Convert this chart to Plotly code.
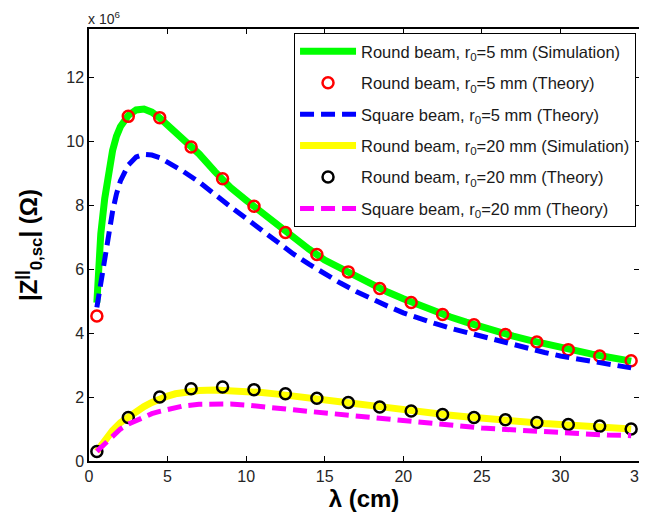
import plotly.graph_objects as go

# ---------------- data (impedance in units of 1e6 Ohm) ----------------
sim_x = [0.5, 0.75, 1.0, 1.25, 1.5, 1.75, 2.0, 2.5, 3.0, 3.5, 4.0, 4.5, 5.0,
         6.0, 7.0, 8.0, 9.0, 10.0, 11.0, 12.0, 13.0, 14.0, 15.0, 16.0, 17.0,
         18.0, 19.0, 20.0, 21.0, 22.0, 23.0, 24.0, 25.0, 26.0, 27.0, 28.0,
         29.0, 30.0, 31.0, 32.0, 33.0, 34.0, 34.5]

round5_sim = [4.95, 7.1, 8.2, 9.1, 9.7, 10.15, 10.45, 10.8, 10.97, 11.0, 10.9,
              10.72, 10.5, 10.1, 9.6, 9.05, 8.55, 8.15, 7.75, 7.35, 6.98, 6.62,
              6.28, 6.02, 5.76, 5.52, 5.28, 5.07, 4.87, 4.68, 4.5, 4.34, 4.18,
              4.03, 3.9, 3.78, 3.66, 3.54, 3.44, 3.34, 3.25, 3.16, 3.12]

square5_theory = [4.8, 5.6, 6.3, 7.1, 7.8, 8.35, 8.75, 9.25, 9.5, 9.58, 9.56,
                  9.48, 9.35, 9.05, 8.72, 8.32, 7.95, 7.58, 7.2, 6.82, 6.47,
                  6.15, 5.85, 5.56, 5.3, 5.06, 4.84, 4.63, 4.45, 4.3, 4.15,
                  4.02, 3.88, 3.75, 3.62, 3.5, 3.39, 3.28, 3.19, 3.1, 3.02,
                  2.95, 2.91]

sim20_x = [0.5, 1.0, 1.5, 2.0, 2.5, 3.0, 3.5, 4.0, 4.5, 5.0, 5.5, 6.0, 7.0,
           8.0, 9.0, 10.0, 11.0, 12.0, 13.0, 14.0, 15.0, 16.0, 17.0, 18.0,
           19.0, 20.0, 21.0, 22.0, 23.0, 24.0, 25.0, 26.0, 27.0, 28.0, 29.0,
           30.0, 31.0, 32.0, 33.0, 34.0, 34.5]

round20_sim = [0.3, 0.65, 0.95, 1.2, 1.38, 1.55, 1.7, 1.83, 1.95, 2.03, 2.1,
               2.15, 2.2, 2.22, 2.21, 2.18, 2.14, 2.09, 2.04, 1.98, 1.92, 1.86,
               1.79, 1.73, 1.66, 1.6, 1.54, 1.48, 1.43, 1.38, 1.33, 1.29, 1.25,
               1.21, 1.17, 1.14, 1.11, 1.08, 1.05, 1.02, 1.0]

square20_theory = [0.3, 0.55, 0.8, 1.0, 1.15, 1.27, 1.38, 1.48, 1.55, 1.62,
                   1.67, 1.72, 1.77, 1.79, 1.78, 1.75, 1.71, 1.66, 1.6, 1.55,
                   1.5, 1.45, 1.4, 1.36, 1.32, 1.27, 1.22, 1.17, 1.13, 1.08,
                   1.03, 1.0, 0.97, 0.95, 0.92, 0.89, 0.86, 0.83, 0.81, 0.8,
                   0.79]

theory_x = [0.5, 2.5, 4.5, 6.5, 8.5, 10.5, 12.5, 14.5, 16.5, 18.5, 20.5, 22.5,
            24.5, 26.5, 28.5, 30.5, 32.5, 34.5]
round5_theory = [4.53, 10.77, 10.73, 9.81, 8.82, 7.96, 7.14, 6.45, 5.91, 5.39,
                 4.95, 4.58, 4.26, 3.95, 3.72, 3.48, 3.28, 3.13]
round20_theory = [0.30, 1.36, 2.0, 2.26, 2.31, 2.23, 2.1, 1.96, 1.83, 1.69,
                  1.56, 1.45, 1.36, 1.29, 1.2, 1.14, 1.09, 1.0]

x_ticks = [0, 5, 10, 15, 20, 25, 30, 35]
y_ticks = [0, 2, 4, 6, 8, 10, 12]

names = [
    "Round beam, r<sub>0</sub>=5 mm (Simulation)",
    "Round beam, r<sub>0</sub>=5 mm (Theory)",
    "Square beam, r<sub>0</sub>=5 mm (Theory)",
    "Round beam, r<sub>0</sub>=20 mm (Simulation)",
    "Round beam, r<sub>0</sub>=20 mm (Theory)",
    "Square beam, r<sub>0</sub>=20 mm (Theory)",
]

FONT = "Arial, Liberation Sans, sans-serif"

fig = go.Figure()
fig.add_trace(go.Scatter(x=sim_x, y=round5_sim, mode="lines", name=names[0],
                         legendgroup="g1",
                         line=dict(color="#00ff00", width=7)))
fig.add_trace(go.Scatter(x=theory_x, y=round5_theory, mode="markers", name=names[1],
                         legendgroup="g2",
                         marker=dict(symbol="circle-open", color="#ff0000", size=11,
                                     line=dict(width=2.5, color="#ff0000"))))
fig.add_trace(go.Scatter(x=sim_x, y=square5_theory, mode="lines", name=names[2],
                         legendgroup="g3",
                         line=dict(color="#0000ff", width=5, dash="14px,7px")))
fig.add_trace(go.Scatter(x=sim20_x, y=round20_sim, mode="lines", name=names[3],
                         legendgroup="g4",
                         line=dict(color="#ffff00", width=7)))
fig.add_trace(go.Scatter(x=theory_x, y=round20_theory, mode="markers", name=names[4],
                         legendgroup="g5",
                         marker=dict(symbol="circle-open", color="#000000", size=11,
                                     line=dict(width=2.5, color="#000000"))))
fig.add_trace(go.Scatter(x=sim20_x, y=square20_theory, mode="lines", name=names[5],
                         legendgroup="g6",
                         line=dict(color="#ff00ff", width=5, dash="14px,7px")))

axis_common = dict(
    showline=True, linecolor="black", linewidth=1.5, mirror="ticks",
    ticks="inside", ticklen=5, tickcolor="black", tickwidth=1,
    showgrid=False, zeroline=False, automargin=False,
    ticklabeloverflow="allow",
    tickfont=dict(family=FONT, size=16, color="#262626"),
)

fig.update_xaxes(range=[0, 35], tickvals=x_ticks, ticktext=[str(v) for v in x_ticks],
                 title=dict(text="<b>λ (cm)</b>", font=dict(family=FONT, size=24, color="black"),
                            standoff=4),
                 **axis_common)
fig.update_yaxes(range=[0, 13.5], tickvals=y_ticks, ticktext=[str(v) for v in y_ticks],
                 title=dict(text="<b>|Z<sup>||</sup><sub>0,sc</sub>| (Ω)</b>",
                            font=dict(family=FONT, size=24, color="black"), standoff=22),
                 **axis_common)

fig.add_annotation(text="x 10<sup>6</sup>", xref="paper", yref="paper", x=0, y=1,
                   xanchor="left", yanchor="bottom", showarrow=False, yshift=0, xshift=-3,
                   font=dict(family=FONT, size=14, color="#262626"))

# page body has an 8px default margin, so the figure is sized/offset to compensate
fig.update_layout(
    width=639, height=517,
    margin=dict(l=81, r=8, t=21, b=64, autoexpand=False),
    paper_bgcolor="white", plot_bgcolor="white",
    showlegend=True,
    legend=dict(x=0.9946, y=0.9907, xanchor="right", yanchor="top",
                bgcolor="white", bordercolor="black", borderwidth=1,
                font=dict(family=FONT, size=16.5, color="#1a1a1a"),
                itemwidth=56, tracegroupgap=7, traceorder="grouped"),
)

fig.write_html("out.html")
